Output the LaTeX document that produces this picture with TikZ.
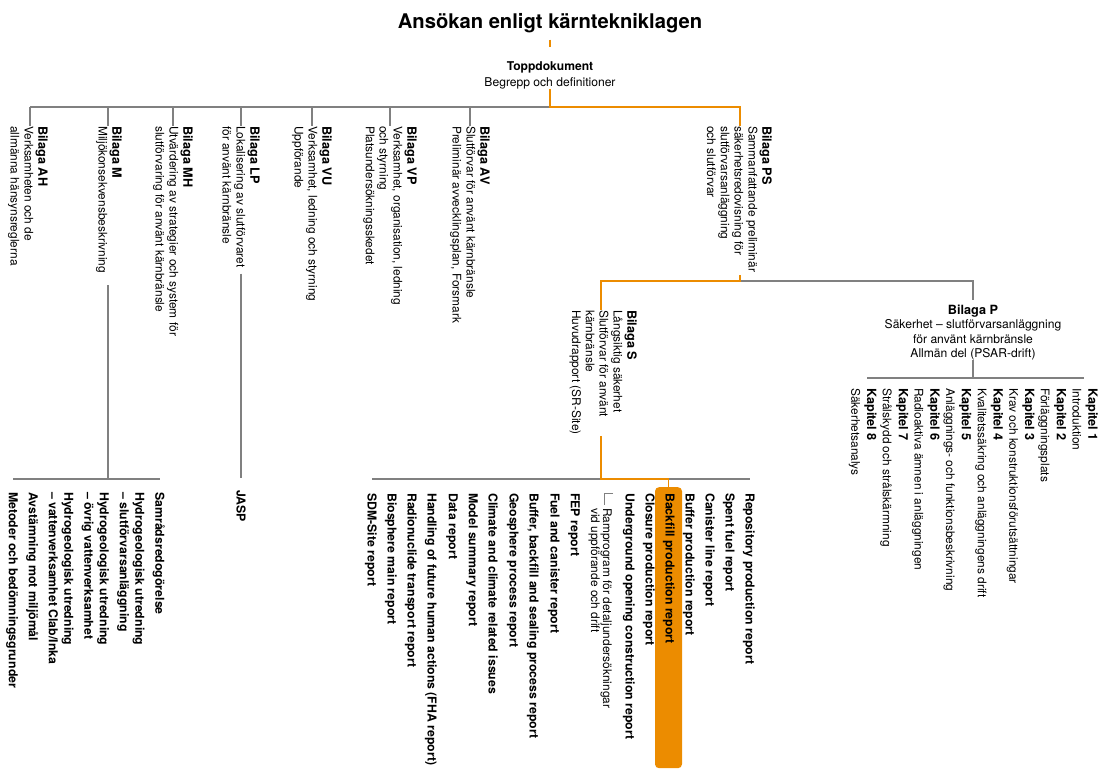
\documentclass[tikz,border=0pt]{standalone}
\usepackage{fontspec}
\setmainfont{TeX Gyre Heros}
\usetikzlibrary{positioning, calc}
\definecolor{skborange}{RGB}{236,140,0}
\definecolor{linegray}{RGB}{128,128,128}
\newcommand{\bilhead}[1]{{\fontsize{12.7}{13.8}\selectfont\bfseries #1}}
\tikzstyle{line} = [draw, linegray, line width=1.2pt]
\tikzstyle{oline} = [draw, skborange, line width=1.5pt]
\tikzstyle{bilaga} = [rotate=-90, anchor=north west, align=left, inner sep=0pt, font=\fontsize{11.9}{13.8}\selectfont]
\tikzstyle{report} = [rotate=-90, anchor=north west, align=left, inner sep=0pt, font=\fontsize{12.3}{15.5}\selectfont\bfseries]
\tikzstyle{kapitel} = [rotate=-90, anchor=north west, align=left, inner sep=0pt, font=\fontsize{11.9}{15.8}\selectfont]

\begin{document}
\begin{tikzpicture}[x=1pt, y=-1pt]
	\useasboundingbox (0,0) rectangle (1100,770);

	% title and top document
	\node [anchor=base, inner xsep=0pt, inner ysep=6pt, font=\fontsize{20.2}{24}\selectfont\bfseries] (title) at (550,29) {Ansökan enligt kärntekniklagen};
	\node [anchor=north, align=center, inner sep=0pt, font=\fontsize{12.1}{14}\selectfont] (top) at (550,61) {\textbf{Toppdokument}\\[2pt] Begrepp och definitioner};

	% junctions on the upper bus
	\coordinate (jtop) at (550,107);
	\coordinate (jah) at (30,107);
	\coordinate (jm) at (108,107);
	\coordinate (jmh) at (173,107);
	\coordinate (jlp) at (241,107);
	\coordinate (jvu) at (312,107);
	\coordinate (jvp) at (390,107);
	\coordinate (jav) at (470,107);
	\coordinate (jps) at (740,107);

	% appendices
	\node [bilaga] (ah) at (48,126) {\bilhead{Bilaga AH}\\Verksamheten och de\\allmänna hänsynsreglerna};
	\node [bilaga] (m) at (122,126) {\bilhead{Bilaga M}\\Miljökonsekvensbeskrivning};
	\node [bilaga] (mh) at (193,126) {\bilhead{Bilaga MH}\\Utvärdering av strategier och system för\\slutförvaring för använt kärnbränsle};
	\node [bilaga] (lp) at (260,126) {\bilhead{Bilaga LP}\\Lokalisering av slutförvaret\\för använt kärnbränsle};
	\node [bilaga] (vu) at (332,126) {\bilhead{Bilaga VU}\\Verksamhet, ledning och styrning\\Uppförande};
	\node [bilaga] (vp) at (417,126) {\bilhead{Bilaga VP}\\Verksamhet, organisation, ledning\\och styrning\\Platsundersökningsskedet};
	\node [bilaga] (av) at (490,126) {\bilhead{Bilaga AV}\\Slutförvar för använt kärnbränsle\\Preliminär avvecklingsplan, Forsmark};
	\node [bilaga] (ps) at (772,126) {\bilhead{Bilaga PS}\\Sammanfattande preliminär\\säkerhetsredovisning för\\slutförvarsanläggning\\och slutförvar};

	\path [line] (jah) -- (jtop);
	\foreach \n in {ah,m,mh,lp,vu,vp,av}
		\path [line] (j\n) -- (j\n |- \n.west);
	\path [oline] (title.south) -- ([yshift=14pt]top.north);
	\path [oline] (top.south) -- (jtop) -- (jps) -- (jps |- ps.west);

	% safety report branch
	\coordinate (jpsb) at (740,281);
	\coordinate (js) at (601,281);
	\coordinate (jp) at (973,281);
	\node [bilaga] (bs) at (637,310) {\bilhead{Bilaga S}\\Långsiktig säkerhet\\Slutförvar för använt\\kärnbränsle\\Huvudrapport (SR-Site)};
	\node [anchor=north, align=center, inner sep=0pt, font=\fontsize{12.1}{14.3}\selectfont] (p) at (973,305) {\bilhead{Bilaga P}\\Säkerhet -- slutförvarsanläggning\\för använt kärnbränsle\\Allmän del (PSAR-drift)};

	\path [line] (jpsb) -- (jp) -- ([yshift=5pt]p.north);
	\path [oline] ([yshift=-3pt]jps |- ps.east) -- (jpsb) -- (js) -- (js |- bs.west);

	% chapters of Bilaga P
	\coordinate (jk) at (973,378);
	\coordinate (kbl) at (867,378);
	\coordinate (kbr) at (1084,378);
	\path [line] (p.south) -- (jk);
	\path [line] (kbl) -- (kbr);
	\foreach \t [count=\i] in {Introduktion, Förläggningsplats, Krav och konstruktionsförutsättningar, Kvalitetssäkring och anläggningens drift, Anläggnings- och funktionsbeskrivning, Radioaktiva ämnen i anläggningen, Strålskydd och strålskärmning, Säkerhetsanalys}
		\node [kapitel] (k\i) at (1129.6-31.6*\i, 388) {\bilhead{Kapitel \i}\\\t};

	% reports under Bilaga S
	\coordinate (sbl) at (372,479);
	\coordinate (sbr) at (750,479);
	\coordinate (jsb) at (601,479);
	\coordinate (jhl) at (668.5,479);
	\node [fill=skborange, rounded corners=4pt, minimum width=27pt, minimum height=281pt, inner sep=0pt, anchor=north] (hl) at (668.5,487) {};
	\path [line] (sbl) -- (sbr);
	\path [oline] ([yshift=-1pt]js |- bs.east) -- (jsb) -- (jhl) -- (hl.north);
	\foreach \x/\t [count=\i] in {750/Repository production report, 730/Spent fuel report, 710/Canister line report, 690/Buffer production report, 670/Backfill production report, 650/Closure production report, 630/Underground opening construction report, 575/FEP report, 555/Fuel and canister report, 534/{Buffer, backfill and sealing process report}, 514/Geosphere process report, 493/Climate and climate related issues, 473/Model summary report, 453/Data report, 432/Handling of future human actions (FHA report), 412/Radionuclide transport report, 392/Biosphere main report, 372/SDM-Site report}
		\node [report] (s\i) at (\x+5, 493) {\t};
	\node [bilaga, font=\fontsize{11.9}{12}\selectfont] (ramp) at (612,508) {Ramprogram för detaljundersökningar\\vid uppförande och drift};
	\coordinate (rampc) at (604,493);
	\path [line, line width=0.9pt] ([xshift=9pt]rampc) -- (rampc) -- ([yshift=3pt]rampc |- ramp.west);

	% documents under Bilaga M and Bilaga LP
	\coordinate (jmd) at (108,479);
	\coordinate (mbl) at (13,479);
	\coordinate (mbr) at (160,479);
	\node [report] (mdocs) at (165,492) {Samrådsredogörelse\\[4.5pt]Hydrogeologisk utredning\\– slutförvarsanläggning\\[4.5pt]Hydrogeologisk utredning\\– övrig vattenverksamhet\\[4.5pt]Hydrogeologisk utredning\\– vattenverksamhet Clab/Inka\\[4.5pt]Avstämning mot miljömål\\[4.5pt]Metoder och bedömningsgrunder};
	\node [report] (jasp) at (246,490) {JASP};
	\path [line] ([yshift=-12pt]jm |- m.east) -- (jmd);
	\path [line] (mbl) -- (mbr);
	\path [line] ([yshift=-6pt]jlp |- lp.east) -- ([yshift=12pt]jlp |- jasp.west);
\end{tikzpicture}
\end{document}
